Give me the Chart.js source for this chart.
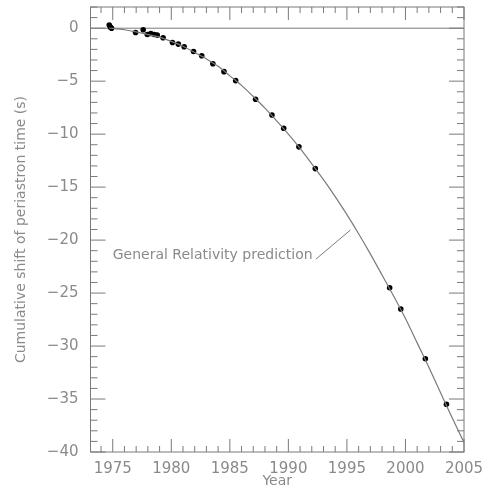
<!DOCTYPE html>
<html>
<head>
<meta charset="utf-8">
<script src="https://cdn.jsdelivr.net/npm/chart.js@4/dist/chart.umd.min.js"></script>
<style>
	html, body { margin: 0; padding: 0; background: #fff; }
	#wrap { width: 495px; height: 488px; position: relative; }
</style>
</head>
<body>
<div id="wrap"><canvas id="periastronChart"></canvas></div>
<script>
// -------------------- Data -------------------- //

// General Relativity prediction curve
const curveYears = [1974.7, 1975, 1976, 1977, 1978, 1979, 1980, 1981, 1982, 1983, 1984,
	1985, 1986, 1987, 1988, 1989, 1990, 1991, 1992, 1993, 1994, 1995, 1996, 1997,
	1998, 1999, 2000, 2001, 2002, 2003, 2004, 2005];
const curveShift = [0, -0.02, -0.15, -0.35, -0.6, -0.85, -1.25, -1.7, -2.3, -2.9, -3.6,
	-4.5, -5.4, -6.45, -7.55, -8.75, -10.0, -11.35, -12.8, -14.3, -15.9, -17.6, -19.4, -21.3,
	-23.3, -25.3, -27.4, -29.7, -32.0, -34.4, -36.8, -39.1];

// measured points
const obsYears = [1974.7, 1974.8, 1974.9, 1976.95, 1977.6, 1977.95, 1978.25, 1978.55, 1978.8,
	1979.3, 1980.1, 1980.6, 1981.1, 1981.9, 1982.6, 1983.55, 1984.5, 1985.5, 1987.2,
	1988.6, 1989.6, 1990.9, 1992.3, 1998.65, 1999.6, 2001.7, 2003.5];
const obsShift = [0.3, 0.1, 0.0, -0.4, -0.15, -0.6, -0.5, -0.6, -0.65,
	-0.9, -1.35, -1.5, -1.75, -2.2, -2.6, -3.35, -4.1, -4.95, -6.7,
	-8.2, -9.45, -11.2, -13.25, -24.5, -26.5, -31.2, -35.5];

const xRange = [1973.1, 2005];
const yRange = [-40, 2];

const labelText = "General Relativity prediction";

// -------------------- Styling -------------------- //
const inkGray = "#7a7a7a";
const textGray = "#8a8a8a";
const fontFamily = "'DejaVu Sans', sans-serif";

/// zips two arrays into {x, y} points
function toPoints(xs, ys) { return xs.map((x, i) => ({ x: x, y: ys[i] })); }

/// Draws the box, inward ticks on all four sides, the zero line and the curve label
const frameTicksPlugin = {
	id: "frameTicks",
	beforeDatasetsDraw(chart) {
		let ctx = chart.ctx, a = chart.chartArea, ys = chart.scales.y;
		let y0 = ys.getPixelForValue(0);
		ctx.save();
		ctx.strokeStyle = inkGray;
		ctx.lineWidth = 1;
		ctx.beginPath();
		ctx.moveTo(a.left, y0);
		ctx.lineTo(a.right, y0);
		ctx.stroke();
		ctx.restore();
	},
	afterDraw(chart) {
		let ctx = chart.ctx, a = chart.chartArea;
		let xs = chart.scales.x, ys = chart.scales.y;
		ctx.save();
		ctx.strokeStyle = inkGray;
		ctx.lineWidth = 1;
		ctx.strokeRect(a.left, a.top, a.right - a.left, a.bottom - a.top);

		ctx.beginPath();
		// years: every year a small tick, every 5 years a long one
		for (let yr = Math.ceil(xRange[0]); yr <= xRange[1]; yr++) {
			let px = xs.getPixelForValue(yr);
			let len = (yr % 5 === 0) ? 13 : 6;
			ctx.moveTo(px, a.bottom); ctx.lineTo(px, a.bottom - len);
			ctx.moveTo(px, a.top); ctx.lineTo(px, a.top + len);
		}
		// seconds
		for (let v = yRange[0]; v <= yRange[1]; v++) {
			let py = ys.getPixelForValue(v);
			let len = (v % 5 === 0) ? 15 : 7;
			ctx.moveTo(a.left, py); ctx.lineTo(a.left + len, py);
			ctx.moveTo(a.right, py); ctx.lineTo(a.right - len, py);
		}
		ctx.stroke();

		// label + leader line to the curve
		ctx.fillStyle = textGray;
		ctx.font = "14px " + fontFamily;
		ctx.textBaseline = "middle";
		ctx.textAlign = "left";
		ctx.fillText(labelText, xs.getPixelForValue(1975.0), ys.getPixelForValue(-21.4));
		ctx.beginPath();
		ctx.moveTo(xs.getPixelForValue(1992.35), ys.getPixelForValue(-21.8));
		ctx.lineTo(xs.getPixelForValue(1995.3), ys.getPixelForValue(-19.05));
		ctx.stroke();
		ctx.restore();
	}
};

/// tick labels use a real minus sign
function minusLabel(value) { return String(value).replace("-", "\u2212"); }

window.onload = () => {
	const ctx = document.getElementById("periastronChart");
	new Chart(ctx, {
		type: "scatter",
		data: {
			datasets: [
				{
					data: toPoints(curveYears, curveShift),
					showLine: true,
					borderColor: inkGray,
					borderWidth: 1.2,
					pointRadius: 0,
					tension: 0.3,
				},
				{
					data: toPoints(obsYears, obsShift),
					backgroundColor: "#000",
					borderColor: "#000",
					pointRadius: 2.8,
					pointBorderWidth: 0,
				},
			],
		},
		options: {
			responsive: true,
			maintainAspectRatio: false,
			animation: false,
			layout: { padding: { top: 7, right: 31, left: 0, bottom: 0 } },
			plugins: { legend: { display: false }, tooltip: { enabled: false } },
			scales: {
				x: {
					type: "linear",
					min: xRange[0],
					max: xRange[1],
					afterFit: (s) => { s.height = 36; s.paddingLeft = 0; s.paddingRight = 0; },
					grid: { display: false, drawTicks: false },
					border: { display: false },
					ticks: {
						stepSize: 5,
						includeBounds: false,
						maxRotation: 0,
						padding: 8,
						color: textGray,
						font: { family: fontFamily, size: 15 },
						callback: (v) => String(v),
					},
					title: {
						display: true,
						text: "Year",
						color: textGray,
						font: { family: fontFamily, size: 14, lineHeight: 1 },
						padding: { top: 0, bottom: 0 },
					},
				},
				y: {
					type: "linear",
					min: yRange[0],
					max: yRange[1],
					afterFit: (s) => { s.width = 90.5; s.paddingTop = 0; s.paddingBottom = 0; },
					grid: { display: false, drawTicks: false },
					border: { display: false },
					ticks: {
						stepSize: 5,
						includeBounds: false,
						padding: 12,
						color: textGray,
						font: { family: fontFamily, size: 15 },
						callback: minusLabel,
					},
					title: {
						display: true,
						text: "Cumulative shift of periastron time (s)",
						color: textGray,
						font: { family: fontFamily, size: 14 },
						padding: { top: 13, bottom: 0 },
					},
				},
			},
		},
		plugins: [frameTicksPlugin],
	});
};
</script>
</body>
</html>
